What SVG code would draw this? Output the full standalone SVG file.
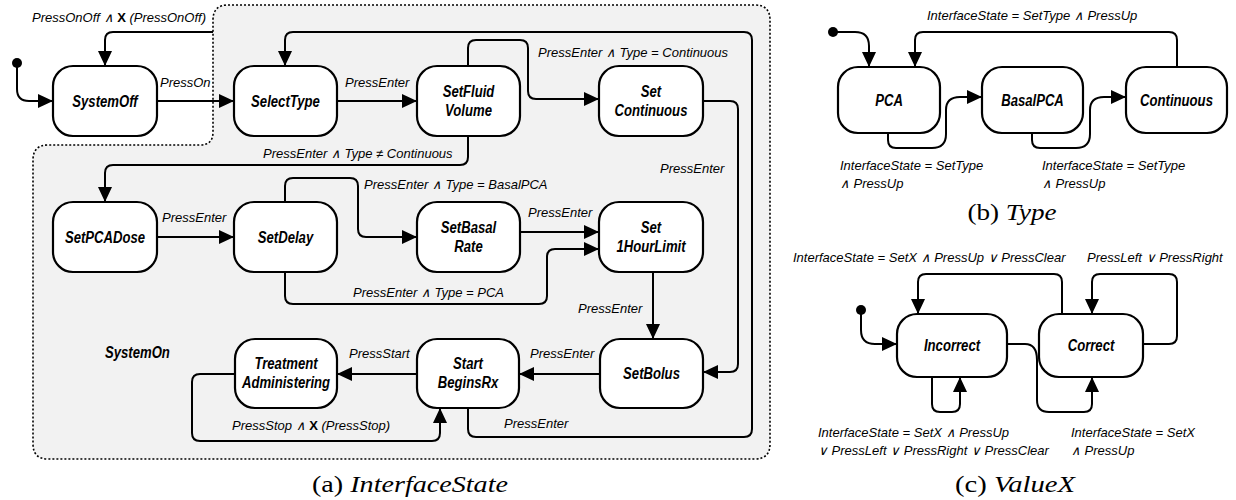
<svg xmlns="http://www.w3.org/2000/svg" width="1236" height="500" viewBox="0 0 1236 500">
<defs>
<marker id="arr" markerUnits="userSpaceOnUse" markerWidth="15" markerHeight="14" refX="15" refY="7" orient="auto">
<path d="M0,0 L15,7 L0,14 z" fill="#000"/>
</marker>
<style>
.node rect{fill:#fff;stroke:#000;stroke-width:2.2}
.nt{font-family:"Liberation Sans",Arial,sans-serif;font-weight:bold;font-style:italic;font-size:16px;text-anchor:middle;fill:#000}
.lbl{font-family:"Liberation Sans",Arial,sans-serif;font-style:italic;font-size:13px;fill:#000}
.b{font-weight:bold;font-style:normal}
#connectors path{fill:none;stroke:#000;stroke-width:2;marker-end:url(#arr)}
.cap{font-family:"Liberation Serif","Times New Roman",serif;font-size:24px;text-anchor:middle;fill:#000}
.it{font-style:italic}
</style>
</defs>
<rect width="1236" height="500" fill="#fff"/>
<g id="SystemOn">
<path d="M228 5 H755 Q770 5 770 20 V444 Q770 459 755 459 H48 Q33 459 33 444 V160 Q33 145 48 145 H200 Q213 145 213 132 V20 Q213 5 228 5 Z" fill="#f2f2f2" stroke="#000" stroke-width="1.6" stroke-dasharray="2,2"/>
<text class="nt" transform="translate(105 358) scale(0.82 1)" style="text-anchor:start">SystemOn</text>
</g>
<g id="connectors">
<circle cx="17" cy="63" r="5" fill="#000"/>
<path d="M17 63 V89 Q17 101 29 101 H53"/>
<path d="M213 32 H113 Q105 32 105 40 V66"/>
<path d="M157 101 H234"/>
<path d="M468 408 V429 Q468 437 476 437 H744 Q752 437 752 429 V40 Q752 32 744 32 H293 Q285 32 285 40 V66"/>
<path d="M337 101 H417"/>
<path d="M468 66 V48 Q468 40 476 40 H520 Q528 40 528 48 V91 Q528 99 536 99 H599"/>
<path d="M703 101 H730 Q738 101 738 109 V364 Q738 372 730 372 H703"/>
<path d="M468 136 V157 Q468 165 460 165 H113 Q105 165 105 173 V202"/>
<path d="M157 237 H234"/>
<path d="M285 202 V186 Q285 178 293 178 H350 Q358 178 358 186 V229 Q358 237 366 237 H417"/>
<path d="M520 232 H599"/>
<path d="M285 272 V296 Q285 304 293 304 H539 Q547 304 547 296 V257 Q547 249 555 249 H599"/>
<path d="M653 272 V339"/>
<path d="M600 374 H519"/>
<path d="M417 374 H337"/>
<path d="M235 374 H200 Q192 374 192 382 V433 Q192 441 200 441 H432 Q440 441 440 433 V408"/>
<circle cx="833" cy="32" r="5" fill="#000"/>
<path d="M833 32 H855 Q869 32 869 46 V67"/>
<path d="M1177 67 V40 Q1177 32 1169 32 H923 Q915 32 915 40 V67"/>
<path d="M888 133 V140 Q888 148 896 148 H932 Q946 148 946 134 V110 Q946 97 960 97 H982"/>
<path d="M1032 133 V140 Q1032 148 1040 148 H1076 Q1090 148 1090 134 V110 Q1090 97 1104 97 H1126"/>
<circle cx="861" cy="310" r="5" fill="#000"/>
<path d="M861 310 V330 Q861 344 875 344 H897"/>
<path d="M1062 314 V282 Q1062 274 1054 274 H926 Q918 274 918 282 V314"/>
<path d="M1143 344 H1169 Q1177 344 1177 336 V282 Q1177 274 1169 274 H1100 Q1092 274 1092 282 V314"/>
<path d="M932 377 V404 Q932 412 940 412 H952 Q960 412 960 404 V377"/>
<path d="M1007 344 H1025 Q1037 344 1037 360 V400 Q1037 412 1049 412 H1084 Q1092 412 1092 404 V377"/>
</g>
<g id="labels">
<text class="lbl" x="32" y="22">PressOnOff ∧ <tspan class="b">X</tspan> (PressOnOff)</text>
<text class="lbl" x="160" y="87">PressOn</text>
<text class="lbl" x="345" y="87">PressEnter</text>
<text class="lbl" x="538" y="57">PressEnter ∧ Type = Continuous</text>
<text class="lbl" x="660" y="173">PressEnter</text>
<text class="lbl" x="263" y="158">PressEnter ∧ Type ≠ Continuous</text>
<text class="lbl" x="162" y="222">PressEnter</text>
<text class="lbl" x="364" y="189">PressEnter ∧ Type = BasalPCA</text>
<text class="lbl" x="528" y="217">PressEnter</text>
<text class="lbl" x="353" y="297">PressEnter ∧ Type = PCA</text>
<text class="lbl" x="578" y="313">PressEnter</text>
<text class="lbl" x="530" y="358">PressEnter</text>
<text class="lbl" x="349" y="358">PressStart</text>
<text class="lbl" x="232" y="430">PressStop ∧ <tspan class="b">X</tspan> (PressStop)</text>
<text class="lbl" x="504" y="428">PressEnter</text>
<text class="lbl" x="927" y="20">InterfaceState = SetType ∧ PressUp</text>
<text class="lbl" x="840" y="170">InterfaceState = SetType</text>
<text class="lbl" x="840" y="188">∧ PressUp</text>
<text class="lbl" x="1042" y="170">InterfaceState = SetType</text>
<text class="lbl" x="1042" y="188">∧ PressUp</text>
<text class="lbl" x="793" y="262">InterfaceState = SetX ∧ PressUp ∨ PressClear</text>
<text class="lbl" x="1087" y="262">PressLeft ∨ PressRight</text>
<text class="lbl" x="818" y="437">InterfaceState = SetX ∧ PressUp</text>
<text class="lbl" x="818" y="455">∨ PressLeft ∨ PressRight  ∨ PressClear</text>
<text class="lbl" x="1071" y="437">InterfaceState = SetX</text>
<text class="lbl" x="1071" y="455">∧ PressUp</text>
</g>
<g id="SystemOff" class="node"><rect x="53" y="66" width="104" height="70" rx="20"/><text class="nt" transform="translate(105 107) scale(0.82 1)">SystemOff</text></g>
<g id="SelectType" class="node"><rect x="234" y="66" width="103" height="70" rx="20"/><text class="nt" transform="translate(285.5 107) scale(0.82 1)">SelectType</text></g>
<g id="SetFluidVolume" class="node"><rect x="417" y="66" width="103" height="70" rx="20"/><text class="nt" transform="translate(468.5 97) scale(0.82 1)">SetFluid</text><text class="nt" transform="translate(468.5 116) scale(0.82 1)">Volume</text></g>
<g id="SetContinuous" class="node"><rect x="599" y="66" width="104" height="70" rx="20"/><text class="nt" transform="translate(651 97) scale(0.82 1)">Set</text><text class="nt" transform="translate(651 116) scale(0.82 1)">Continuous</text></g>
<g id="SetPCADose" class="node"><rect x="53" y="202" width="104" height="70" rx="20"/><text class="nt" transform="translate(105 243) scale(0.82 1)">SetPCADose</text></g>
<g id="SetDelay" class="node"><rect x="234" y="202" width="103" height="70" rx="20"/><text class="nt" transform="translate(285.5 243) scale(0.82 1)">SetDelay</text></g>
<g id="SetBasalRate" class="node"><rect x="417" y="202" width="103" height="70" rx="20"/><text class="nt" transform="translate(468.5 233) scale(0.82 1)">SetBasal</text><text class="nt" transform="translate(468.5 252) scale(0.82 1)">Rate</text></g>
<g id="Set1HourLimit" class="node"><rect x="599" y="202" width="104" height="70" rx="20"/><text class="nt" transform="translate(651 233) scale(0.82 1)">Set</text><text class="nt" transform="translate(651 252) scale(0.82 1)">1HourLimit</text></g>
<g id="TreatmentAdministering" class="node"><rect x="235" y="339" width="102" height="69" rx="20"/><text class="nt" transform="translate(286 369) scale(0.82 1)">Treatment</text><text class="nt" transform="translate(286 388) scale(0.82 1)">Administering</text></g>
<g id="StartBeginsRx" class="node"><rect x="417" y="339" width="102" height="69" rx="20"/><text class="nt" transform="translate(468 369) scale(0.82 1)">Start</text><text class="nt" transform="translate(468 388) scale(0.82 1)">BeginsRx</text></g>
<g id="SetBolus" class="node"><rect x="600" y="339" width="103" height="69" rx="20"/><text class="nt" transform="translate(651.5 379) scale(0.82 1)">SetBolus</text></g>
<g id="PCA" class="node"><rect x="838" y="67" width="102" height="66" rx="20"/><text class="nt" transform="translate(889 106) scale(0.82 1)">PCA</text></g>
<g id="BasalPCA" class="node"><rect x="982" y="67" width="101" height="66" rx="20"/><text class="nt" transform="translate(1032.5 106) scale(0.82 1)">BasalPCA</text></g>
<g id="Continuous" class="node"><rect x="1126" y="67" width="101" height="66" rx="20"/><text class="nt" transform="translate(1176.5 106) scale(0.82 1)">Continuous</text></g>
<g id="Incorrect" class="node"><rect x="897" y="314" width="110" height="63" rx="20"/><text class="nt" transform="translate(952 351) scale(0.82 1)">Incorrect</text></g>
<g id="Correct" class="node"><rect x="1039" y="314" width="104" height="63" rx="20"/><text class="nt" transform="translate(1091 351) scale(0.82 1)">Correct</text></g>
<g id="captions">
<text class="cap" x="410" y="492" textLength="196" lengthAdjust="spacingAndGlyphs">(a) <tspan class="it">InterfaceState</tspan></text>
<text class="cap" x="1012" y="220" textLength="89" lengthAdjust="spacingAndGlyphs">(b) <tspan class="it">Type</tspan></text>
<text class="cap" x="1015" y="492" textLength="120" lengthAdjust="spacingAndGlyphs">(c) <tspan class="it">ValueX</tspan></text>
</g>
</svg>
